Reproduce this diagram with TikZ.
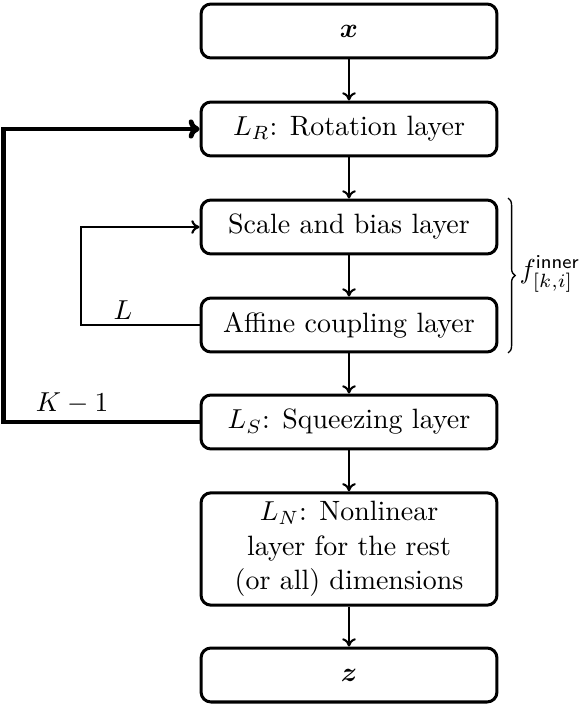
\documentclass[tikz,border=0pt]{standalone}
\usepackage{amsmath,bm}
\usetikzlibrary{decorations.pathreplacing,arrows.meta}
\begin{document}
\begin{tikzpicture}[x=0.365pt,y=-0.365pt,
  every node/.style={font=\fontsize{10.2}{12.6}\selectfont},
  blk/.style={draw,line width=1.1pt,rounded corners=3.6pt,minimum width=108pt,minimum height=19.7pt,align=center,inner sep=0pt},
  thin/.style={line width=0.75pt,-{To[length=3pt,width=5pt]}},
  thick/.style={line width=1.8pt,-{To[length=4pt,width=7pt]}}]
\useasboundingbox (0,0) rectangle (582,706);
\node[blk] (x) at (349,31) {$\bm{x}$};
\node[blk] (lr) at (349,129) {$L_R$: Rotation layer};
\node[blk] (sb) at (349,227) {Scale and bias layer};
\node[blk] (ac) at (349,325) {Affine coupling layer};
\node[blk] (sq) at (349,422) {$L_S$: Squeezing layer};
\node[blk,minimum height=41pt] (nl) at (349,549) {$L_N$: Nonlinear\\layer for the rest\\(or all) dimensions};
\node[blk] (z) at (349,675) {$\bm{z}$};
\draw[thin] (x) -- (lr);
\draw[thin] (lr) -- (sb);
\draw[thin] (sb) -- (ac);
\draw[thin] (ac) -- (sq);
\draw[thin] (sq) -- (nl);
\draw[thin] (nl) -- (z);
\coordinate (ia) at (81,325);
\draw[thin] (ac.west) -- (ia) |- (sb.west);
\node (lL) at (123,310) {$L$};
\coordinate (oa) at (3.5,422);
\draw[thick] (sq.west) -- (oa) |- (lr.west);
\node (lK) at (72,403) {$K-1$};
\coordinate (ba) at (508,198);
\coordinate (bb) at (508,353);
\draw[line width=0.5pt,decorate,decoration={brace,amplitude=2.6pt}] (ba) -- (bb);
\node[anchor=west,inner sep=0pt] (f) at (519,274) {$f^{\textsf{inner}}_{[k,i]}$};
\end{tikzpicture}
\end{document}
